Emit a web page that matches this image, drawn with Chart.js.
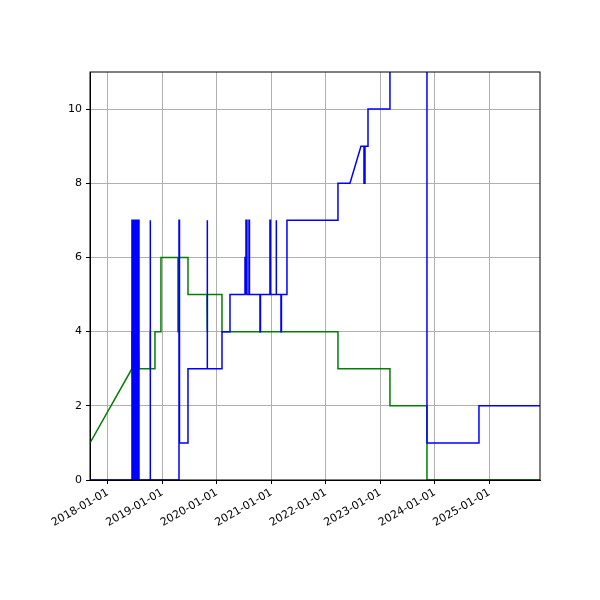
<!DOCTYPE html>
<html><head><script src="https://cdn.jsdelivr.net/npm/chart.js"></script>
<style>body{margin:0;background:#fff}</style></head>
<body><div style="width:600px;height:600px"><canvas id="c" width="600" height="600"></canvas></div>
<script>
const yearTicks = [2018,2019,2020,2021,2022,2023,2024,2025];
const tickLabels = ["2018-01-01","2019-01-01","2020-01-01","2021-01-01","2022-01-01","2023-01-01","2024-01-01","2025-01-01"];
const blueX = [2017.670,2018.440,2018.440,2018.459,2018.459,2018.477,2018.477,2018.495,2018.495,2018.514,2018.514,2018.532,2018.532,2018.550,2018.550,2018.569,2018.569,2018.771,2018.771,2018.780,2018.780,2019.303,2019.303,2019.312,2019.312,2019.468,2019.468,2019.817,2019.817,2019.826,2019.826,2020.092,2020.092,2020.239,2020.239,2020.514,2020.514,2020.532,2020.532,2020.532,2020.550,2020.550,2020.587,2020.587,2020.596,2020.596,2020.789,2020.789,2020.798,2020.798,2020.972,2020.972,2020.982,2020.982,2021.083,2021.083,2021.092,2021.092,2021.174,2021.174,2021.183,2021.183,2021.284,2021.284,2022.220,2022.220,2022.440,2022.642,2022.697,2022.697,2022.716,2022.716,2022.771,2022.771,2023.174,2023.174,2023.853,2023.853,2024.807,2024.807,2025.927];
const blueY = [0,0,7,7,0,0,7,7,0,0,7,7,0,0,7,7,0,0,7,7,0,0,7,7,1,1,3,3,7,7,3,3,4,4,5,5,6,6,5,7,7,5,5,7,7,5,5,4,4,5,5,7,7,5,5,7,7,5,5,4,4,5,5,7,7,8,8,9,9,8,8,9,9,10,10,12,12,1,1,2,2];
const greenX = [2017.670,2018.440,2018.440,2018.459,2018.477,2018.495,2018.514,2018.532,2018.550,2018.569,2018.587,2018.771,2018.771,2018.780,2018.780,2018.862,2018.862,2018.972,2018.972,2019.284,2019.284,2019.294,2019.294,2019.468,2019.468,2019.817,2019.817,2019.826,2019.826,2020.092,2020.092,2022.220,2022.220,2023.174,2023.174,2023.853,2023.853,2025.927];
const greenY = [1,3,4,3,4,3,4,3,4,3,3,3,4,4,3,3,4,4,6,6,4,4,6,6,5,5,4,4,5,5,4,4,3,3,2,2,0,0];
const pts = (xs, ys) => xs.map((x, i) => ({x, y: ys[i]}));
const frame = {id:'frame', afterDraw(c){const a=c.chartArea,g=c.ctx;g.save();g.strokeStyle='#000';g.lineWidth=1;g.strokeRect(a.left,a.top,a.right-a.left,a.bottom-a.top);g.restore();}};
new Chart(document.getElementById('c'), {
  type: 'scatter',
  data: { datasets: [
    {data: pts(blueX, blueY), showLine: true, borderColor: '#0000ff', borderWidth: 1.5, pointRadius: 0, tension: 0},
    {data: pts(greenX, greenY), showLine: true, borderColor: '#008000', borderWidth: 1.5, pointRadius: 0, tension: 0}
  ]},
  plugins: [frame],
  options: {
    responsive: false, animation: false,
    layout: {padding: {left: 40, top: 72, right: 60, bottom: 0}},
    plugins: {legend: {display: false}, tooltip: {enabled: false}},
    scales: {
      x: {type: 'linear', min: 2017.670, max: 2025.927,
        afterBuildTicks: s => { s.ticks = yearTicks.map(v => ({value: v})); },
        afterFit: s => { s.height = 120; },
        ticks: {callback: (v) => tickLabels[yearTicks.indexOf(v)], maxRotation: 30, minRotation: 30, color: '#000', font: {family: 'DejaVu Sans', size: 11}, padding: 2},
        grid: {color: '#b0b0b0', tickColor: '#000', tickLength: 4}, border: {color: '#000'}},
      y: {min: 0, max: 11,
        afterBuildTicks: s => { s.ticks = [0,2,4,6,8,10].map(v => ({value: v})); },
        afterFit: s => { s.width = 50; },
        ticks: {color: '#000', font: {family: 'DejaVu Sans', size: 11}, padding: 4},
        grid: {color: '#b0b0b0', tickColor: '#000', tickLength: 4}, border: {color: '#000'}}
    }
  }
});
</script></body></html>
